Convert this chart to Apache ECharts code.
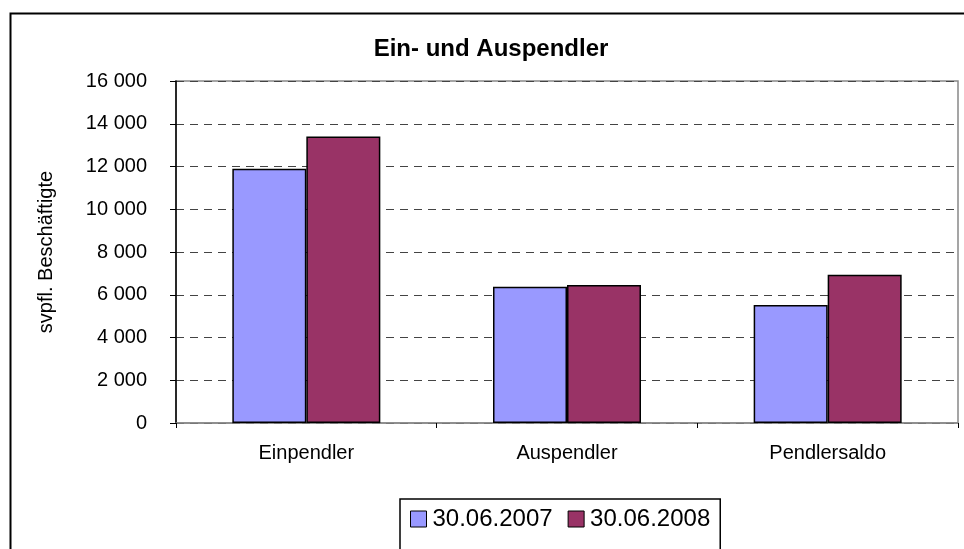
<!DOCTYPE html>
<html>
<head>
<meta charset="utf-8">
<script src="https://cdn.jsdelivr.net/npm/echarts@6/dist/echarts.min.js"></script>
<style>
  html, body { margin: 0; padding: 0; background: #fff; }
  #chart { width: 964px; height: 549px; }
</style>
</head>
<body>
<div id="chart"></div>
<script>
// Daten
var categories = ['Einpendler', 'Auspendler', 'Pendlersaldo'];
var seriesNames = ['30.06.2007', '30.06.2008'];
var values2007 = [11900, 6380, 5520];
var values2008 = [13400, 6460, 6940];

var font = 'Liberation Sans, Arial, sans-serif';

function fmt(v) {
  // Tausender mit Leerzeichen
  return String(v).replace(/\B(?=(\d{3})+(?!\d))/g, ' ');
}

var chart = echarts.init(document.getElementById('chart'));

chart.setOption({
  animation: false,
  backgroundColor: '#fff',
  textStyle: { fontFamily: font, color: '#000' },
  title: {
    text: 'Ein- und Auspendler',
    left: 486,
    textAlign: 'center',
    top: 32,
    textStyle: { fontFamily: font, fontSize: 24, fontWeight: 'bold', color: '#000' }
  },
  grid: {
    left: 176, top: 81, right: 6, bottom: 126,
    show: true, borderColor: '#888', borderWidth: 1.5, backgroundColor: 'transparent'
  },
  legend: {
    data: seriesNames,
    left: 400, top: 499,
    orient: 'horizontal',
    icon: 'rect',
    itemWidth: 16, itemHeight: 16,
    itemGap: 15,
    padding: [8, 10, 40, 10],
    borderColor: '#000', borderWidth: 1.5,
    textStyle: { fontFamily: font, fontSize: 24, color: '#000', padding: [0, 0, 0, 1] },
    itemStyle: { borderColor: '#000', borderWidth: 1 }
  },
  xAxis: {
    type: 'category',
    data: categories,
    axisLine: { lineStyle: { color: '#888', width: 1.5 } },
    axisTick: { show: true, length: 5, lineStyle: { color: '#000' } },
    axisLabel: { fontFamily: font, fontSize: 20, color: '#000', margin: 20 },
    splitLine: { show: false }
  },
  yAxis: {
    type: 'value',
    min: 0, max: 16000, interval: 2000,
    name: 'svpfl. Beschäftigte',
    nameLocation: 'middle',
    nameGap: 120,
    nameRotate: 90,
    nameTextStyle: { fontFamily: font, fontSize: 20, color: '#000' },
    axisLine: { show: true, lineStyle: { color: '#000', width: 1.5 } },
    axisTick: { show: true, inside: false, length: 6, lineStyle: { color: '#000' } },
    axisLabel: { fontFamily: font, fontSize: 20, color: '#000', margin: 29, formatter: fmt },
    splitLine: { show: true, lineStyle: { color: '#444', type: [8, 6], width: 1.2 } }
  },
  series: [
    {
      name: seriesNames[0], type: 'bar', data: values2007,
      barWidth: 74, barGap: '0%',
      itemStyle: { color: '#9999FF', borderColor: '#000', borderWidth: 1.5 }
    },
    {
      name: seriesNames[1], type: 'bar', data: values2008,
      barWidth: 74,
      itemStyle: { color: '#993366', borderColor: '#000', borderWidth: 1.5 }
    }
  ],
  graphic: [
    {
      type: 'rect', left: 8, top: 11, silent: true, z: -1,
      shape: { width: 980, height: 560 },
      style: { fill: 'none', stroke: '#000', lineWidth: 2 }
    }
  ]
});
</script>
</body>
</html>
